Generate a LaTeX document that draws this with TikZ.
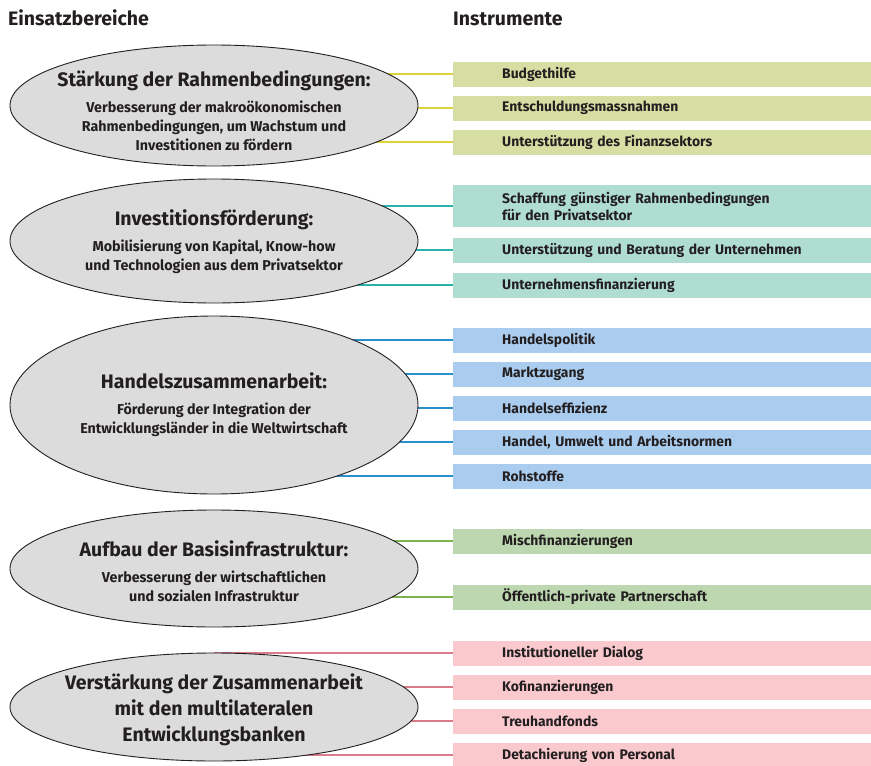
\documentclass[tikz,border=0pt]{standalone}
\usepackage{fontspec}
\setmainfont{Fira Sans}
\usetikzlibrary{shapes.geometric,backgrounds}
\definecolor{txt}{HTML}{231F20}
\definecolor{ellfill}{HTML}{DCDCDD}
\definecolor{boxA}{HTML}{D6DEA3}\definecolor{lineA}{HTML}{DDD43A}
\definecolor{boxB}{HTML}{AFDDD2}\definecolor{lineB}{HTML}{2AB3AE}
\definecolor{boxC}{HTML}{AACCEE}\definecolor{lineC}{HTML}{2A8FCB}
\definecolor{boxD}{HTML}{BDD7B1}\definecolor{lineD}{HTML}{7EB24E}
\definecolor{boxE}{HTML}{F9C9CD}\definecolor{lineE}{HTML}{D87C8B}
\newcommand{\ttl}{\fontsize{19.5}{24}\selectfont}
\newcommand{\sub}{\fontsize{14.3}{19}\selectfont}
\begin{document}
\begin{tikzpicture}[x=1pt,y=-1pt,
  every node/.style={text=txt},
  area/.style={ellipse,draw=txt,line width=0.9pt,fill=ellfill,inner sep=0pt,
    minimum width=408pt},
  atext/.style={inner sep=0pt,align=center,font=\bfseries\sub},
  ibox/.style={anchor=west,minimum height=25pt,text width=418pt,inner xsep=0pt,
    inner ysep=0pt,align=left,font=\bfseries\fontsize{13.9}{17}\selectfont},
  hdr/.style={anchor=base west,inner sep=0pt,font=\bfseries\fontsize{19.5}{22}\selectfont},
  conn/.style={line width=1.5pt}]
\useasboundingbox (0,0) rectangle (871,766);
\newcommand{\ind}{\hspace*{49pt}}

\node[hdr] (h1) at (8,25) {Einsatzbereiche};
\node[hdr] (h2) at (453,25) {Instrumente};

% areas
\node[area,minimum height=121pt] (e1) at (214,105.5) {};
\node[atext,yshift=-5pt] (t1) at (e1.center)
  {{\ttl Stärkung der Rahmenbedingungen:}\\[7pt]Verbesserung der makroökonomischen\\Rahmenbedingungen, um Wachstum und\\Investitionen zu fördern};
\node[area,minimum height=124pt] (e2) at (214,241) {};
\node[atext,yshift=-1pt] (t2) at (e2.center)
  {{\ttl Investitionsförderung:}\\[7pt]Mobilisierung von Kapital, Know-how\\und Technologien aus dem Privatsektor};
\node[area,minimum height=178pt] (e3) at (214,405) {};
\node[atext] (t3) at (e3.center)
  {{\ttl Handelszusammenarbeit:}\\[7pt]Förderung der Integration der\\Entwicklungsländer in die Weltwirtschaft};
\node[area,minimum height=117pt] (e4) at (214,568.5) {};
\node[atext,yshift=-2.5pt] (t4) at (e4.center)
  {{\ttl Aufbau der Basisinfrastruktur:}\\[7pt]Verbesserung der wirtschaftlichen\\und sozialen Infrastruktur};
\node[area,minimum height=108pt] (e5) at (214,707) {};
\node[atext,yshift=-3pt,font=\bfseries\fontsize{19.5}{26}\selectfont] (t5) at (e5.center)
  {Verstärkung der Zusammenarbeit\\mit den multilateralen\\Entwicklungsbanken};

% instruments
\node[ibox,fill=boxA] (a1) at (453,74) {\ind Budgethilfe};
\node[ibox,fill=boxA] (a2) at (453,108) {\ind Entschuldungsmassnahmen};
\node[ibox,fill=boxA] (a3) at (453,142) {\ind Unterstützung des Finanzsektors};

\node[ibox,fill=boxB,minimum height=42pt] (b1) at (453,206) {\ind Schaffung günstiger Rahmenbedingungen\\\ind für den Privatsektor};
\node[ibox,fill=boxB] (b2) at (453,250) {\ind Unterstützung und Beratung der Unternehmen};
\node[ibox,fill=boxB] (b3) at (453,285) {\ind Unternehmensfinanzierung};

\node[ibox,fill=boxC] (c1) at (453,340) {\ind Handelspolitik};
\node[ibox,fill=boxC] (c2) at (453,374) {\ind Marktzugang};
\node[ibox,fill=boxC] (c3) at (453,408) {\ind Handelseffizienz};
\node[ibox,fill=boxC] (c4) at (453,442) {\ind Handel, Umwelt und Arbeitsnormen};
\node[ibox,fill=boxC] (c5) at (453,476) {\ind Rohstoffe};

\node[ibox,fill=boxD] (d1) at (453,541) {\ind Mischfinanzierungen};
\node[ibox,fill=boxD] (d2) at (453,597) {\ind Öffentlich-private Partnerschaft};

\node[ibox,fill=boxE] (f1) at (453,653) {\ind Institutioneller Dialog};
\node[ibox,fill=boxE] (f2) at (453,687) {\ind Kofinanzierungen};
\node[ibox,fill=boxE] (f3) at (453,721) {\ind Treuhandfonds};
\node[ibox,fill=boxE] (f4) at (453,755) {\ind Detachierung von Personal};

\begin{scope}[on background layer]
\foreach \bx in {a1,a2,a3} \draw[conn,draw=lineA] (\bx.west) -- (\bx.west -| e1.center);
\foreach \bx in {b1,b2,b3} \draw[conn,draw=lineB] (\bx.west) -- (\bx.west -| e2.center);
\foreach \bx in {c1,c2,c3,c4,c5} \draw[conn,draw=lineC] (\bx.west) -- (\bx.west -| e3.center);
\foreach \bx in {d1,d2} \draw[conn,draw=lineD] (\bx.west) -- (\bx.west -| e4.center);
\foreach \bx in {f1,f2,f3,f4} \draw[conn,draw=lineE] (\bx.west) -- (\bx.west -| e5.center);
\end{scope}
\end{tikzpicture}
\end{document}
